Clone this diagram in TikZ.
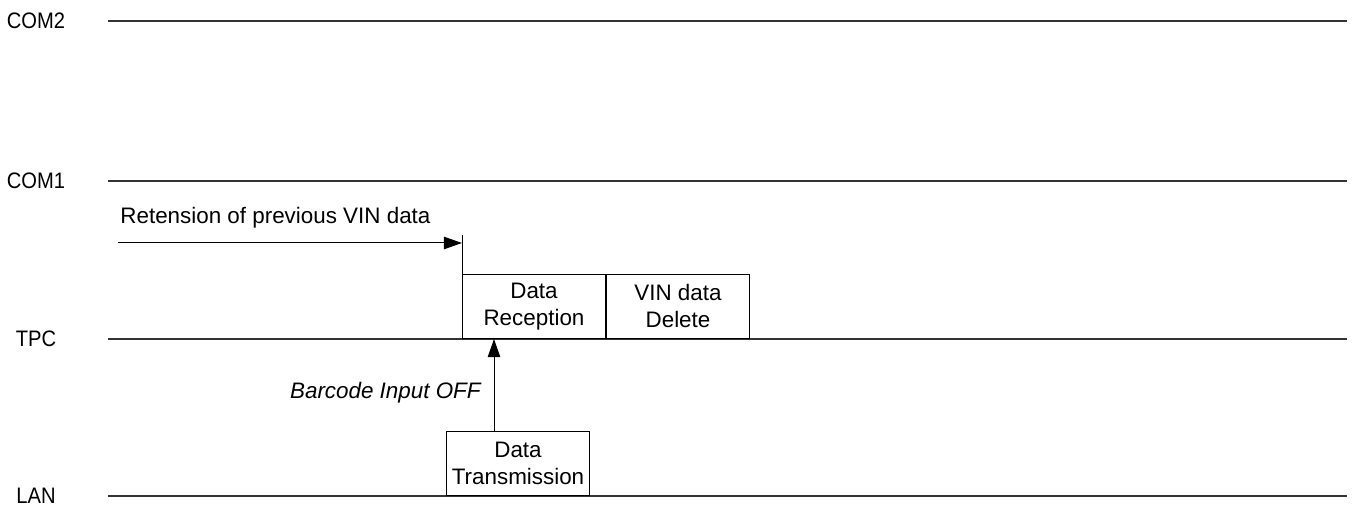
\documentclass[tikz,border=0pt]{standalone}
\usepackage{fontspec}
\setmainfont{Liberation Sans}
\newfontfamily\narrowsans[FakeStretch=0.9]{Liberation Sans}
\usetikzlibrary{arrows.meta,positioning}

\begin{document}
\begin{tikzpicture}[x=0.5pt, y=-0.5pt, font=\fontsize{11.2}{13.5}\selectfont,
    >={Triangle[length=3.2mm, width=2.2mm]},
    busline/.style={line width=0.6pt, black!80},
    buslabel/.style={inner sep=0pt, font=\fontsize{11.2}{13.5}\narrowsans},
    stagebox/.style={draw, line width=0.5pt, align=center, inner sep=0pt,
      minimum width=71.5pt, minimum height=32pt}]
  \useasboundingbox (0,0) rectangle (1357,506);

  % bus lines with their labels
  \foreach \name/\yy in {COM2/21, COM1/181, TPC/339, LAN/496} {
    \node[buslabel] (lbl\name) at (36,\yy) {\name};
    \coordinate (\name-l) at (108,\yy);
    \coordinate (\name-r) at (1347,\yy);
    \draw[busline] (\name-l) -- (\name-r);
  }

  % stages on TPC and LAN
  \node[stagebox, anchor=south west] (recv) at (462,339) {Data\\Reception};
  \node[stagebox, anchor=west] (vindel) at (recv.east) {VIN data\\Delete};
  \node[stagebox, anchor=south west] (xmit) at (446,496) {Data\\Transmission};

  % retention of previous data
  \coordinate (rtop) at (462,235);
  \coordinate (rstart) at (118,243);
  \coordinate (rend) at (462,243);
  \draw[line width=0.5pt] (recv.north west) -- (rtop);
  \draw[->, line width=0.5pt] (rstart) -- (rend);
  \node[anchor=south west, inner sep=0pt] (rtext) at (120,229) {Retension of previous VIN data};

  % barcode trigger
  \coordinate (bfoot) at (xmit.north -| 494,0);
  \coordinate (bhead) at (494,339);
  \draw[->, line width=0.5pt] (bfoot) -- (bhead);
  \node[anchor=east, inner sep=0pt, font=\fontsize{11.2}{13.5}\selectfont\itshape] (btext) at (481,393) {Barcode Input OFF};
\end{tikzpicture}
\end{document}
